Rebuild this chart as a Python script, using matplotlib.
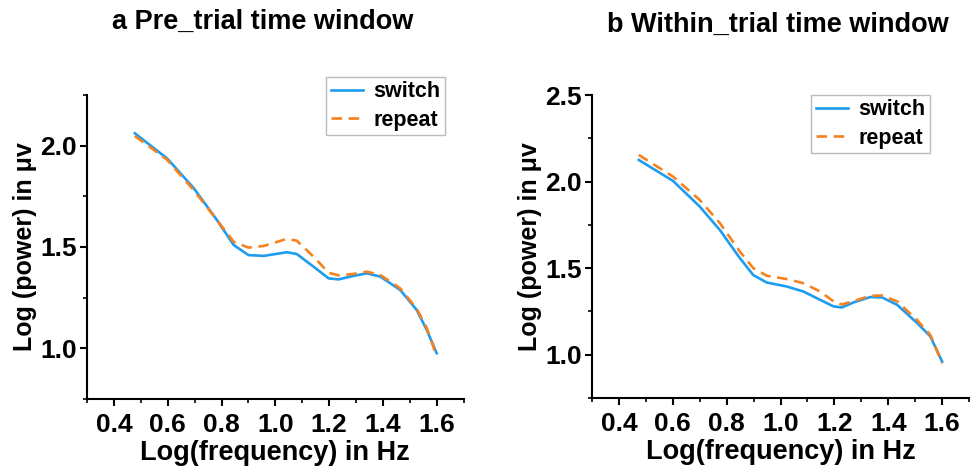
import numpy as np
import matplotlib.pyplot as plt
from matplotlib.ticker import MultipleLocator

plt.rcParams['font.family'] = 'Liberation Sans'
plt.rcParams['font.weight'] = 'bold'

# panel a - pre trial
xa = [0.478, 0.598, 0.697, 0.783, 0.845, 0.90, 0.957, 1.043, 1.08, 1.142,
      1.198, 1.235, 1.29, 1.34, 1.39, 1.464, 1.525, 1.563, 1.60]
switch_a = [2.061, 1.937, 1.79, 1.633, 1.51, 1.46, 1.456, 1.474, 1.465, 1.403,
            1.345, 1.34, 1.357, 1.37, 1.354, 1.288, 1.19, 1.09, 0.975]
repeat_a = [2.048, 1.93, 1.78, 1.633, 1.526, 1.497, 1.505, 1.54, 1.531, 1.452,
            1.373, 1.36, 1.367, 1.378, 1.362, 1.296, 1.197, 1.10, 0.959]

# panel b - within trial
xb = [0.474, 0.601, 0.70, 0.775, 0.849, 0.899, 0.949, 1.023, 1.085, 1.147,
      1.197, 1.228, 1.271, 1.333, 1.377, 1.433, 1.507, 1.556, 1.60]
switch_b = [2.125, 2.004, 1.856, 1.72, 1.558, 1.46, 1.417, 1.394, 1.365, 1.317,
            1.279, 1.273, 1.302, 1.333, 1.331, 1.288, 1.183, 1.106, 0.96]
repeat_b = [2.154, 2.029, 1.894, 1.76, 1.596, 1.50, 1.456, 1.437, 1.413, 1.365,
            1.308, 1.29, 1.31, 1.34, 1.342, 1.308, 1.20, 1.115, 0.95]

blue = '#1e9cf0'
orange = '#f5821f'

fig = plt.figure(figsize=(9.72, 4.66), dpi=100)
ax1 = fig.add_axes([0.0895, 0.144, 0.3875, 0.652])
ax2 = fig.add_axes([0.609, 0.146, 0.388, 0.650])

panels = [(ax1, xa, switch_a, repeat_a, (0.75, 2.25), [1.0, 1.5, 2.0]),
          (ax2, xb, switch_b, repeat_b, (0.75, 2.5), [1.0, 1.5, 2.0, 2.5])]

for ax, x, sw, rp, ylim, yt in panels:
    ax.plot(x, sw, color=blue, lw=1.9, label='switch')
    ax.plot(x, rp, color=orange, lw=1.9, ls=(0, (4, 2.5)), label='repeat')
    ax.set_xlim(0.3, 1.7)
    ax.set_ylim(*ylim)
    ax.set_xticks([0.4, 0.6, 0.8, 1.0, 1.2, 1.4, 1.6])
    ax.set_yticks(yt)
    ax.xaxis.set_minor_locator(MultipleLocator(0.1))
    ax.yaxis.set_minor_locator(MultipleLocator(0.25))
    for s in ['top', 'right']:
        ax.spines[s].set_visible(False)
    for s in ['left', 'bottom']:
        ax.spines[s].set_linewidth(1.5)
    ax.tick_params(which='major', length=5, width=1.5, labelsize=19)
    ax.tick_params(axis='x', pad=5)
    ax.tick_params(axis='y', pad=2.5)
    ax.tick_params(which='minor', length=3, width=1.2)
    ax.set_xlabel('Log(frequency) in Hz', fontsize=19.5, fontweight='bold', labelpad=2)
    ax.set_ylabel('Log (power) in μv', fontsize=18, fontweight='bold', labelpad=2)

leg_kw = dict(loc='upper right', fontsize=15.5, handlelength=1.5, handletextpad=0.5,
              borderpad=0.2, labelspacing=0.35, borderaxespad=0, fancybox=False,
              framealpha=1, edgecolor='#bbbbbb')
ax1.legend(bbox_to_anchor=(445 / 972, 1 - 77 / 466), bbox_transform=fig.transFigure, **leg_kw)
ax2.legend(bbox_to_anchor=(930 / 972, 1 - 95 / 466), bbox_transform=fig.transFigure, **leg_kw)

fig.text(263 / 972, 1 - 22 / 466, 'a Pre_trial time window', ha='center', va='center',
         fontsize=19.5, fontweight='bold')
fig.text(778 / 972, 1 - 25 / 466, 'b Within_trial time window', ha='center', va='center',
         fontsize=19.5, fontweight='bold')

fig.savefig('out.png', dpi=100)
